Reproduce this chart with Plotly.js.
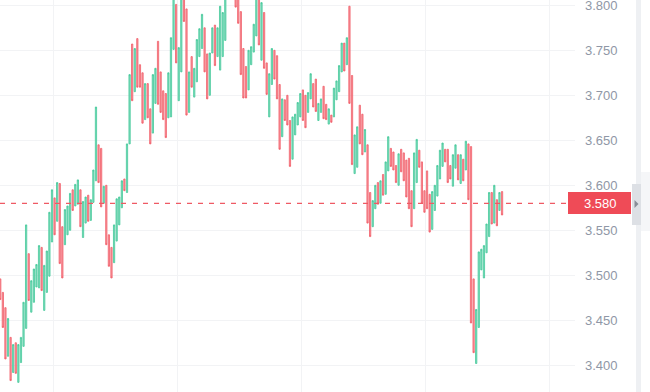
<!DOCTYPE html>
<html>
<head>
<meta charset="utf-8">
<script src="https://cdn.plot.ly/plotly-3.0.1.min.js"></script>
<style>
  html, body { margin: 0; padding: 0; background: #ffffff; }
  #chart { width: 650px; height: 392px; }
</style>
</head>
<body>
<div id="chart"></div>
<script>
// Candle opens and closes (oldest first)
const openPrices = [
  3.496,3.481,3.464,3.410,3.431,3.392,3.425,3.381,3.403,3.421,
  3.441,3.524,3.459,3.470,3.487,3.486,3.531,3.461,3.481,3.499,
  3.537,3.586,3.560,3.602,3.554,3.534,3.545,3.550,3.595,3.577,
  3.579,3.595,3.542,3.558,3.589,3.561,3.581,3.605,3.645,3.641,
  3.580,3.600,3.545,3.531,3.514,3.538,3.556,3.575,3.607,3.592,
  3.646,3.757,3.704,3.763,3.734,3.725,3.673,3.713,3.685,3.658,
  3.691,3.760,3.726,3.705,3.702,3.675,3.676,3.751,3.801,3.694,
  3.726,3.821,3.796,3.681,3.743,3.698,3.715,3.743,3.752,3.775,
  3.746,3.700,3.747,3.778,3.743,3.728,3.743,3.761,3.815,3.828,
  3.812,3.824,3.813,3.793,3.752,3.732,3.706,3.734,3.748,3.766,
  3.815,3.739,3.792,3.736,3.676,3.712,3.750,3.744,3.712,3.654,
  3.695,3.700,3.672,3.629,3.656,3.667,3.676,3.706,3.700,3.681,
  3.696,3.713,3.718,3.672,3.681,3.710,3.690,3.668,3.678,3.676,
  3.695,3.704,3.726,3.758,3.734,3.799,3.722,3.613,3.620,3.689,
  3.679,3.637,3.645,3.592,3.554,3.574,3.603,3.580,3.612,3.590,
  3.616,3.641,3.637,3.622,3.600,3.640,3.636,3.628,3.630,3.594,
  3.574,3.603,3.639,3.626,3.594,3.616,3.590,3.551,3.572,3.588,
  3.607,3.621,3.640,3.640,3.622,3.599,3.619,3.634,3.602,3.629,
  3.617,3.646,3.643,3.496,3.402,3.442,3.506,3.497,3.525,3.543,
  3.592,3.558,3.584,3.572,3.593
];
const closePrices = [
  3.473,3.442,3.407,3.452,3.383,3.423,3.391,3.423,3.431,3.470,
  3.556,3.472,3.494,3.507,3.512,3.533,3.483,3.511,3.527,3.570,
  3.595,3.545,3.603,3.513,3.497,3.573,3.577,3.591,3.572,3.601,
  3.606,3.554,3.582,3.587,3.560,3.584,3.617,3.687,3.603,3.576,
  3.599,3.534,3.510,3.497,3.556,3.585,3.587,3.605,3.594,3.646,
  3.723,3.694,3.752,3.709,3.709,3.669,3.713,3.675,3.646,3.723,
  3.730,3.690,3.681,3.673,3.653,3.725,3.764,3.813,3.736,3.753,
  3.817,3.782,3.678,3.726,3.709,3.730,3.762,3.774,3.790,3.726,
  3.696,3.747,3.775,3.733,3.775,3.799,3.792,3.817,3.828,3.812,
  3.826,3.798,3.780,3.723,3.697,3.697,3.750,3.754,3.779,3.813,
  3.756,3.803,3.730,3.701,3.724,3.752,3.718,3.696,3.640,3.696,
  3.672,3.667,3.621,3.676,3.679,3.692,3.702,3.672,3.664,3.703,
  3.724,3.687,3.682,3.691,3.696,3.674,3.673,3.685,3.670,3.708,
  3.716,3.733,3.758,3.727,3.764,3.691,3.623,3.656,3.665,3.646,
  3.634,3.662,3.558,3.543,3.583,3.600,3.579,3.605,3.589,3.626,
  3.654,3.621,3.617,3.603,3.635,3.615,3.605,3.587,3.574,3.554,
  3.636,3.651,3.620,3.580,3.570,3.574,3.548,3.593,3.600,3.622,
  3.639,3.647,3.626,3.603,3.607,3.634,3.645,3.606,3.634,3.605,
  3.649,3.584,3.447,3.414,3.462,3.526,3.529,3.533,3.557,3.592,
  3.557,3.600,3.555,3.592,3.567
];
const lastPrice = 3.580;
const yTickValues = [3.400, 3.450, 3.500, 3.550, 3.600, 3.650, 3.700, 3.750, 3.800];

const xIndex = openPrices.map((_, i) => i);
// bars show no separate wicks: high/low equal the body ends
const highPrices = openPrices.map((o, i) => Math.max(o, closePrices[i]));
const lowPrices = openPrices.map((o, i) => Math.min(o, closePrices[i]));

const W = 575; // plot width in px
const H = 392;
const px = v => v / W;
const py = v => 1 - v / H;

const trace = {
  type: 'candlestick',
  x: xIndex,
  open: openPrices,
  high: highPrices,
  low: lowPrices,
  close: closePrices,
  increasing: { line: { color: '#45c99b', width: 0.8 }, fillcolor: '#86dcc0' },
  decreasing: { line: { color: '#f15e69', width: 0.8 }, fillcolor: '#f79aa0' },
  whiskerwidth: 0,
  hoverinfo: 'skip',
  showlegend: false
};

const layout = {
  width: 650,
  height: 392,
  margin: { l: 0, r: 75, t: 0, b: 0, pad: 0 },
  paper_bgcolor: '#ffffff',
  plot_bgcolor: '#ffffff',
  showlegend: false,
  font: { family: 'Arial, "Liberation Sans", sans-serif', size: 13, color: '#8f97a6' },
  xaxis: {
    range: [-0.1, 222.2],
    rangeslider: { visible: false },
    showticklabels: false,
    tickmode: 'array',
    tickvals: [20.5, 68.45, 116.4, 164.35, 212.3],
    showgrid: true,
    gridcolor: '#f2f3f5',
    gridwidth: 1,
    zeroline: false,
    showline: false,
    ticks: ''
  },
  yaxis: {
    side: 'right',
    range: [3.3703, 3.8059],
    tickmode: 'array',
    tickvals: yTickValues,
    ticktext: yTickValues.map(v => v.toFixed(3)),
    showgrid: true,
    gridcolor: '#f2f3f5',
    gridwidth: 1,
    zeroline: false,
    showline: false,
    ticks: '',
    ticklabelstandoff: 9,
    ticklabeloverflow: 'allow',
    tickfont: { size: 13, color: '#8f97a6' }
  },
  shapes: [
    { type: 'line', xref: 'paper', yref: 'y', x0: 0, x1: px(568), y0: lastPrice, y1: lastPrice,
      line: { color: '#ef5a64', width: 1.2, dash: '5px,6px' } },
    { type: 'rect', xref: 'paper', yref: 'paper', x0: px(636), x1: px(641), y0: 0, y1: 1,
      fillcolor: '#eef0f3', line: { width: 0 }, layer: 'above' },
    { type: 'rect', xref: 'paper', yref: 'paper', x0: px(641), x1: px(650), y0: py(231), y1: py(172),
      fillcolor: '#f5f6f8', line: { width: 0 }, layer: 'above' },
    { type: 'rect', xref: 'paper', yref: 'paper', x0: px(632), x1: px(641), y0: py(225), y1: py(184),
      fillcolor: '#dde0e5', line: { width: 0 }, layer: 'above' },
    { type: 'path', xref: 'paper', yref: 'paper',
      path: 'M ' + px(634.5) + ' ' + py(200) + ' L ' + px(634.5) + ' ' + py(208) + ' L ' + px(638.5) + ' ' + py(204) + ' Z',
      fillcolor: '#878d97', line: { width: 0 }, layer: 'above' },
    { type: 'rect', xref: 'paper', yref: 'paper', x0: px(568), x1: px(631), y0: py(214), y1: py(192),
      fillcolor: '#ef4b57', line: { width: 0 }, layer: 'above' }
  ],
  annotations: [
    { xref: 'paper', yref: 'paper', x: px(600), y: py(203), xanchor: 'center', yanchor: 'middle',
      text: lastPrice.toFixed(3), showarrow: false,
      font: { family: 'Arial, "Liberation Sans", sans-serif', size: 13, color: '#ffffff' } }
  ]
};

Plotly.newPlot('chart', [trace], layout, { staticPlot: true, displayModeBar: false });
</script>
</body>
</html>
